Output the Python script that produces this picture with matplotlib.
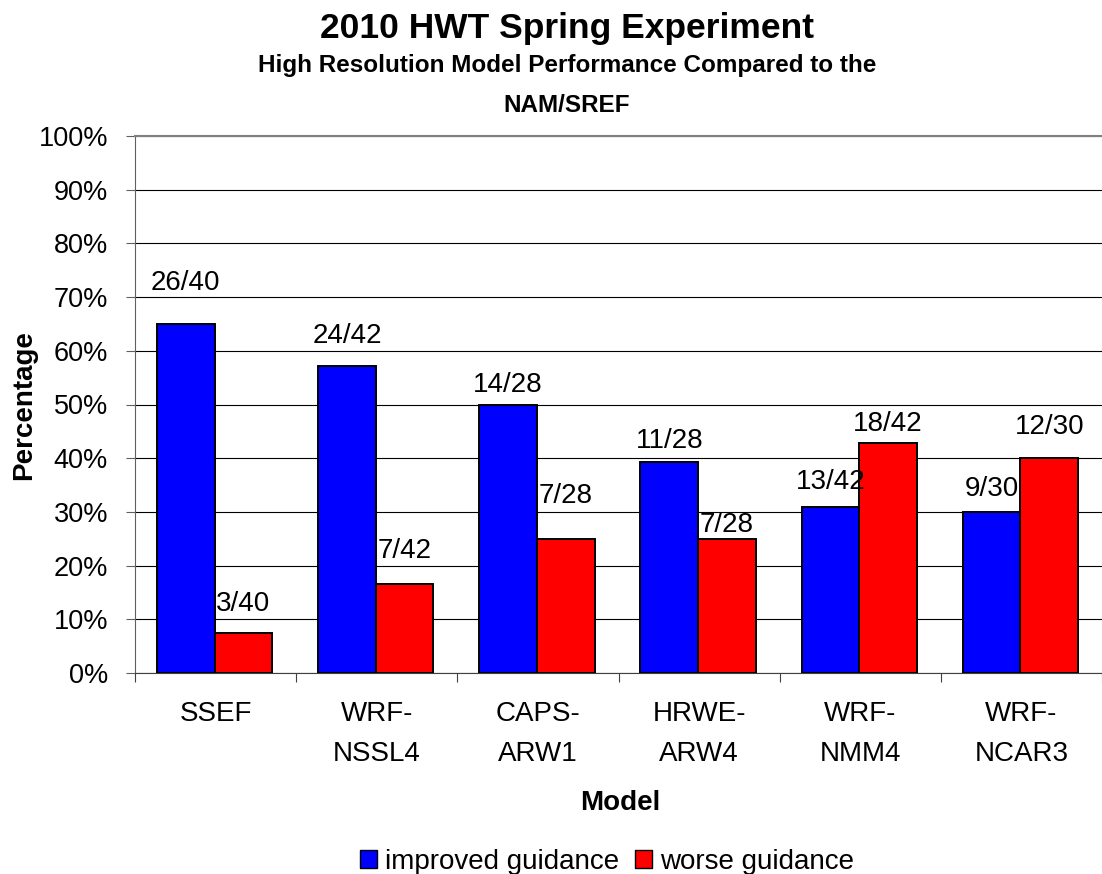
import matplotlib
matplotlib.use("Agg")
import matplotlib.pyplot as plt
from matplotlib.patches import Patch
from matplotlib.ticker import PercentFormatter

# --- data ---
models = ["SSEF", "WRF-\nNSSL4", "CAPS-\nARW1", "HRWE-\nARW4", "WRF-\nNMM4", "WRF-\nNCAR3"]
improved_counts = [26, 24, 14, 11, 13, 9]
worse_counts = [3, 7, 7, 7, 18, 12]
totals = [40, 42, 28, 28, 42, 30]
series_names = ["improved guidance", "worse guidance"]
y_ticks = [0, 10, 20, 30, 40, 50, 60, 70, 80, 90, 100]

improved_pct = [n / t * 100 for n, t in zip(improved_counts, totals)]
worse_pct = [n / t * 100 for n, t in zip(worse_counts, totals)]

# label gaps above the bars (pixels), labels were hand placed in the original
improved_gap = [34, 23, 12, 14, 18, 16]
worse_gap = [22, 26, 36, 7, 12, 24]

plt.rcParams['font.family'] = ['Liberation Sans', 'DejaVu Sans']

W, H = 1102, 874
fig = plt.figure(figsize=(W / 100, H / 100), dpi=100)
ax = fig.add_axes([135 / W, (H - 673) / H, (W - 135) / W, (673 - 136) / H])

x = list(range(len(models)))
bw = 0.358
x_blue = [i - 0.185 for i in x]
x_red = [i + 0.173 for i in x]

ax.bar(x_blue, improved_pct, width=bw, color='#0000FF', edgecolor='black', linewidth=1.4, zorder=3)
ax.bar(x_red, worse_pct, width=bw, color='#FF0000', edgecolor='black', linewidth=1.4, zorder=3)

for xs, vals, cnts, gaps in [(x_blue, improved_pct, improved_counts, improved_gap),
                              (x_red, worse_pct, worse_counts, worse_gap)]:
    for xi, v, c, t, g in zip(xs, vals, cnts, totals, gaps):
        ax.annotate(f"{c}/{t}", (xi, v), xytext=(0, g * 0.72), textcoords='offset points',
                    ha='center', va='baseline', fontsize=20, zorder=4)

ax.set_ylim(0, 100)
ax.set_xlim(-0.5, -0.5 + 967 / 162)
ax.set_yticks(y_ticks)
ax.yaxis.set_major_formatter(PercentFormatter(decimals=0))
ax.tick_params(axis='y', labelsize=19.5, length=6.5, pad=13, color='#606060')

# boundaries as major ticks, names on minor ticks
ax.set_xticks([i - 0.5 for i in range(len(models) + 1)])
ax.set_xticklabels([])
ax.set_xticks(x, minor=True)
ax.set_xticklabels(models, minor=True, fontsize=20, linespacing=1.7)
ax.tick_params(axis='x', which='major', length=6.5, color='#404040')
ax.tick_params(axis='x', which='minor', length=0, pad=20)

ax.yaxis.grid(True, color='black', linewidth=0.8)
ax.set_axisbelow(True)
ax.spines['right'].set_visible(False)
ax.spines['top'].set_color('#808080')
ax.spines['top'].set_linewidth(1.5)
ax.spines['left'].set_color('#606060')
ax.spines['bottom'].set_color('#404040')

# titles and axis names
cx = 567 / W
fig.text(cx, 1 - 38 / H, "2010 HWT Spring Experiment", ha='center', va='baseline',
         fontsize=25.5, fontweight='bold')
fig.text(cx, 1 - 72 / H, "High Resolution Model Performance Compared to the", ha='center',
         va='baseline', fontsize=17.5, fontweight='bold')
fig.text(cx, 1 - 112 / H, "NAM/SREF", ha='center', va='baseline', fontsize=17.5, fontweight='bold')
fig.text(24 / W, 1 - 405 / H, "Percentage", rotation=90, ha='center', va='center',
         fontsize=20, fontweight='bold')
fig.text(620 / W, 1 - 803 / H, "Model", ha='center', va='center', fontsize=20, fontweight='bold')

handles = [Patch(facecolor='#0000FF', edgecolor='black'), Patch(facecolor='#FF0000', edgecolor='black')]
fig.legend(handles, series_names, loc='center', bbox_to_anchor=(607 / W, 1 - 862 / H), ncol=2,
           frameon=False, fontsize=20, handlelength=0.62, handleheight=0.62,
           handletextpad=0.3, columnspacing=0.55, borderpad=0, borderaxespad=0)

fig.savefig("out.png", dpi=100)
